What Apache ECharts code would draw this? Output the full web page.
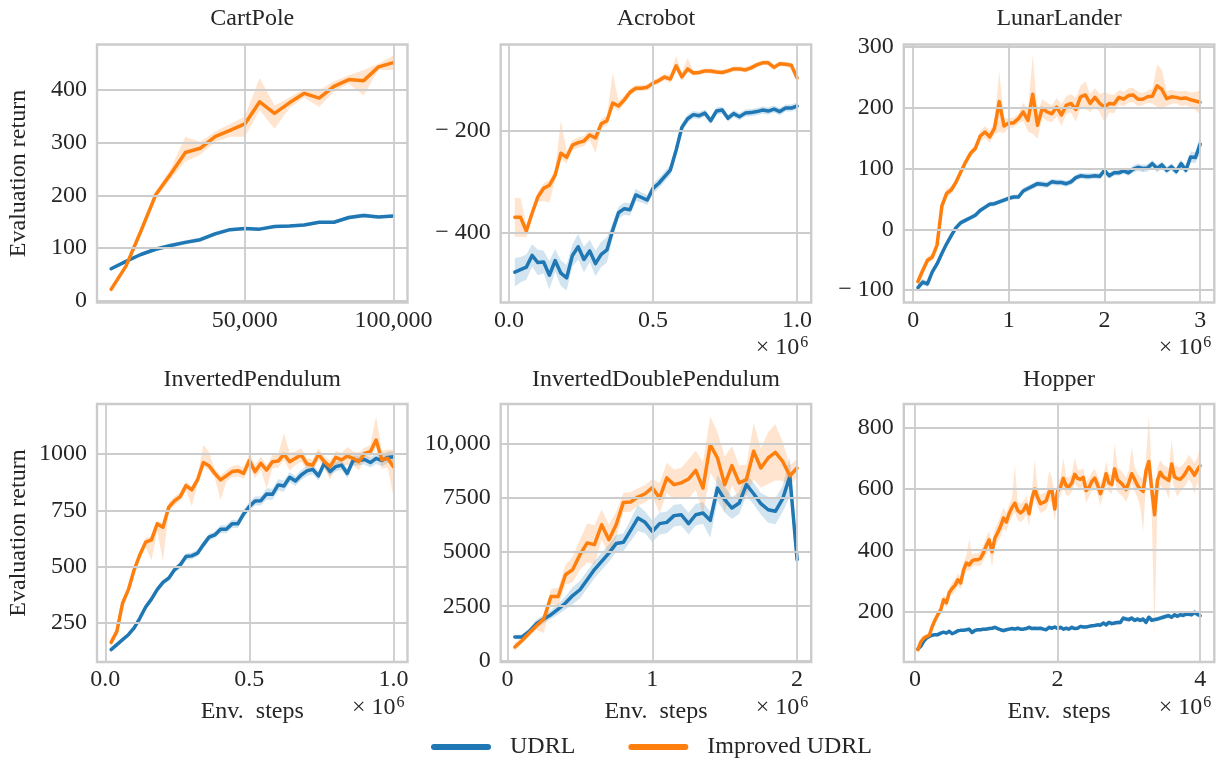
<!DOCTYPE html>
<html>
<head>
<meta charset="utf-8">
<title>UDRL vs Improved UDRL</title>
<script src="https://cdn.jsdelivr.net/npm/echarts@6/dist/echarts.min.js"></script>
<style>
  html, body { margin: 0; padding: 0; background: #ffffff; }
  #chart { width: 1228px; height: 760px; }
</style>
</head>
<body>
<div id="chart"></div>
<script>
// ---- Evaluation returns (mean curves and band half-widths; a pair is [below, above]) ----

// CartPole: evaluated every 5,000 env. steps
const cartpoleEvalEvery = 5000;
const cartpoleUdrl = [61, 75, 88, 98, 105, 111, 116, 127, 135, 137, 136, 141, 142, 144, 149, 149, 158, 162, 159, 161];
const cartpoleUdrlSpread = [3, 3, 3, 4, 4, 4, 4, 4, 3, 3, 3, 3, 3, 3, 3, 3, 4, 4, 3, 3];
const cartpoleImproved = [22, 66, 132, 201, 240, 281, 289, 311, 323, 335, 377, 355, 375, 393, 384, 406, 419, 417, 443, 451];
const cartpoleImprovedSpread = [3, 5, 6, 6, 10, [17, 30], 12, 10, 12, [24, 14], [16, 45], [29, 15], 10, 8, [17, 15], 10, 8, [28, 20], 6, 14];
const cartpoleXTicks = [50000, 100000];
const cartpoleXLabels = ['50,000', '100,000'];
const cartpoleYTicks = [0, 100, 200, 300, 400];
const cartpoleYLabels = ['0', '100', '200', '300', '400'];

// Acrobot: evaluated every 0.02 × 10^6 env. steps
const acrobotEvalEvery = 0.02;
const acrobotUdrl = [-478, -473, -468, -445, -459, -458, -484, -455, -480, -489,
  -445, -428, -453, -436, -461, -443, -434, -395, -361, -353,
  -355, -326, -331, -336, -313, -303, -290, -277, -238, -193,
  -176, -168, -170, -165, -180, -161, -159, -175, -166, -172,
  -165, -164, -162, -159, -161, -157, -162, -155, -155, -151];
const acrobotUdrlSpread = [28, 25, 25, 22, 25, 22, 28, 22, 25, 25,
  22, 25, 25, 22, 25, 25, 25, 15, 12, 12,
  12, 12, 10, 10, 10, 10, 10, 10, 8, 8,
  8, 7, 7, 7, 7, 7, 7, 7, 7, 7,
  7, 7, 7, 7, 7, 7, 7, 7, 7, 7];
const acrobotImproved = [-370, -370, -397, -362, -330, -313, -307, -287, -244, -252,
  -228, -223, -220, -208, -214, -186, -180, -145, -151, -139,
  -124, -116, -116, -114, -106, -101, -94, -98, -72, -94,
  -78, -86, -85, -82, -82, -84, -85, -82, -78, -78,
  -80, -76, -70, -66, -66, -75, -68, -69, -71, -96];
const acrobotImprovedSpread = [38, 38, 12, 10, 10, [25, 10], [34, 10], 10, [10, 65], 12,
  10, 10, 10, 10, [30, 10], 10, 10, [8, 60], 10, 8,
  7, 6, 6, 6, 6, 6, 6, 8, [6, 20], 8,
  [6, 22], 5, 5, 5, 5, 5, 5, 5, 5, 5,
  5, 5, 5, 5, 5, 5, 5, 5, 5, 8];
const acrobotXTicks = [0, 0.5, 1.0];
const acrobotXLabels = ['0.0', '0.5', '1.0'];
const acrobotYTicks = [-400, -200];
const acrobotYLabels = ['\u2212 400', '\u2212 200'];

// LunarLander: evaluated every 0.05 × 10^6 env. steps
const lunarEvalEvery = 0.05;
const lunarUdrl = [-96, -87, -90, -70, -57, -40, -24, -10, 3, 11,
  15, 19, 23, 31, 36, 41, 42, 45, 48, 51,
  53, 53, 63, 67, 71, 75, 74, 73, 78, 77,
  77, 75, 78, 85, 88, 87, 87, 88, 87, 97,
  88, 93, 93, 96, 93, 99, 102, 100, 101, 108,
  100, 106, 97, 103, 95, 108, 97, 119, 118, 140];
const lunarUdrlSpread = [6, 5, 5, 5, 5, 5, 4, 4, 4, 4,
  4, 4, 4, 4, 4, 4, 4, 4, 4, 4,
  4, 4, 5, 5, 5, 5, 5, 5, 5, 5,
  5, 5, 5, 5, 5, 5, 5, 5, 5, 5,
  5, 5, 5, 5, 5, 6, 6, 6, 6, 6,
  6, 6, 6, 6, 6, 7, 7, 9, 9, 15];
const lunarImproved = [-86, -68, -51, -46, -26, 38, 59, 65, 78, 95,
  111, 125, 133, 153, 160, 152, 166, 210, 170, 175,
  175, 182, 193, 179, 222, 171, 199, 193, 190, 201,
  188, 204, 207, 197, 218, 221, 207, 217, 207, 201,
  207, 206, 217, 214, 220, 221, 214, 214, 218, 219,
  236, 230, 215, 218, 217, 215, 216, 213, 211, 209];
const lunarImprovedSpread = [10, 8, 6, 6, 8, 8, 8, 6, 6, 6,
  6, 6, 6, 8, 10, 10, 10, 50, 12, 8,
  8, 8, 15, 18, 65, 22, 15, 15, 14, 15,
  18, 15, 15, 20, 18, 22, 15, 15, 15, 25,
  15, 15, 12, 12, 12, 12, 12, 10, 10, 12,
  35, 32, 12, 12, 10, 12, 12, 12, 15, 20];
const lunarXTicks = [0, 1, 2, 3];
const lunarXLabels = ['0', '1', '2', '3'];
const lunarYTicks = [-100, 0, 100, 200, 300];
const lunarYLabels = ['\u2212 100', '0', '100', '200', '300'];

// InvertedPendulum: evaluated every 0.02 × 10^6 env. steps
const pendulumEvalEvery = 0.02;
const pendulumUdrl = [132, 154, 176, 198, 228, 272, 321, 356, 398, 430,
  449, 486, 508, 545, 548, 560, 597, 631, 641, 666,
  666, 690, 690, 734, 767, 792, 793, 823, 821, 863,
  858, 897, 880, 907, 925, 932, 903, 959, 922, 944,
  951, 914, 971, 971, 976, 962, 981, 971, 985, 988];
const pendulumUdrlSpread = [4, 6, 8, 10, 10, 10, 12, 12, 12, 12,
  12, 12, 15, 15, 15, 15, 15, 15, 15, 18,
  18, 18, 18, 18, 20, 20, 20, 25, 25, 25,
  25, 22, 22, 22, 22, 22, 22, 22, 22, 22,
  22, 22, 22, 22, 22, 22, 25, 25, 25, 25];
const pendulumImproved = [164, 213, 339, 398, 486, 553, 609, 619, 690, 675,
  764, 792, 811, 860, 841, 885, 962, 948, 914, 885,
  903, 922, 926, 914, 971, 922, 959, 929, 966, 969,
  999, 966, 981, 996, 956, 951, 999, 966, 944, 985,
  974, 991, 981, 966, 1003, 1010, 1062, 974, 981, 944];
const pendulumImprovedSpread = [15, 15, 15, 15, 15, 15, 20, [90, 15], [30, 15], [150, 15],
  20, 20, 20, 20, [73, 15], 20, [20, 78], [20, 60], 20, [89, 20],
  25, 25, 25, 25, 30, 30, 30, [81, 20], 30, 30,
  [25, 93], 40, 30, 30, 25, 25, 25, 25, [59, 25], 30,
  30, 40, 30, 40, 25, 30, [30, 106], 40, 40, [130, 74]];
const pendulumXTicks = [0, 0.5, 1.0];
const pendulumXLabels = ['0.0', '0.5', '1.0'];
const pendulumYTicks = [250, 500, 750, 1000];
const pendulumYLabels = ['250', '500', '750', '1000'];

// InvertedDoublePendulum: evaluated every 0.05 × 10^6 env. steps
const doubleEvalEvery = 0.05;
const doubleUdrl = [1080, 1080, 1340, 1690, 1910, 2110, 2370, 2650, 2990, 3260,
  3720, 4190, 4570, 4950, 5390, 5450, 6000, 6570, 6370, 5950,
  6310, 6370, 6680, 6720, 6310, 6720, 6800, 6460, 7950, 7420,
  7030, 7260, 8110, 7690, 7230, 6950, 6880, 7450, 8490, 4650];
const doubleUdrlSpread = [100, 100, 150, 200, 200, 200, 250, 300, 400, 400,
  400, 400, 400, 400, 400, 400, 500, 600, 500, 500,
  500, 500, 500, 500, 500, 500, 500, [800, 400], 600, 600,
  500, 500, 500, 500, 500, 600, 600, 600, 900, 200];
const doubleImproved = [620, 920, 1260, 1600, 1910, 2950, 2950, 3950, 4190, 4880,
  5420, 5340, 6260, 5570, 6260, 7290, 7310, 7540, 7690, 7970,
  7490, 8420, 8110, 8190, 8370, 8770, 7950, 9950, 9340, 8110,
  8990, 8190, 8340, 9650, 8880, 9340, 9600, 9190, 8520, 8880];
const doubleImprovedSpread = [200, 150, 150, 200, [650, 150], 350, 400, 450, 600, 700,
  900, 900, 700, 700, 600, 450, 450, 400, 400, 400,
  700, 700, 700, 700, 900, 900, 1200, 1300, 1200, 1300,
  900, 800, 700, 1300, 900, 1200, 1300, 900, 500, 400];
const doubleXTicks = [0, 1, 2];
const doubleXLabels = ['0', '1', '2'];
const doubleYTicks = [0, 2500, 5000, 7500, 10000];
const doubleYLabels = ['0', '2500', '5000', '7500', '10,000'];

// Hopper: evaluated every 0.04 × 10^6 env. steps
const hopperEvalEvery = 0.04;
const hopperUdrl = [77, 86, 102, 113, 118, 122, 124, 124, 129, 132,
  129, 135, 127, 131, 137, 138, 138, 140, 142, 131,
  138, 140, 140, 142, 142, 144, 145, 148, 144, 140,
  137, 140, 142, 144, 142, 145, 142, 142, 144, 148,
  144, 145, 144, 145, 142, 140, 148, 145, 149, 144,
  148, 142, 145, 142, 148, 144, 145, 151, 149, 149,
  151, 153, 154, 156, 155, 162, 156, 164, 160, 162,
  164, 164, 178, 175, 173, 178, 171, 175, 171, 175,
  164, 181, 171, 173, 175, 178, 181, 184, 186, 181,
  189, 184, 189, 187, 191, 191, 189, 197, 191, 186];
const hopperUdrlSpread = [4, 4, 5, 5, 5, 5, 5, 5, 5, 5,
  5, 5, 5, 5, 5, 5, 5, 5, 6, 6,
  6, 6, 6, 6, 6, 6, 6, 6, 6, 6,
  6, 6, 6, 6, 6, 6, 6, 6, 6, 6,
  6, 6, 6, 6, 6, 6, 6, 6, 6, 6,
  6, 6, 6, 6, 6, 6, 6, 6, 6, 6,
  6, 6, 6, 6, 6, 7, 7, 7, 7, 7,
  7, 7, 8, 8, 8, 8, 8, 8, 8, 8,
  8, 8, 8, 8, 8, 8, 8, 8, 8, 8,
  8, 8, 8, 8, 8, 8, 8, 9, 9, 9];
const hopperImproved = [75, 100, 112, 118, 122, 150, 172, 190, 205, 238,
  228, 262, 275, 285, 303, 293, 335, 358, 352, 365,
  369, 369, 374, 392, 415, 434, 395, 440, 458, 478,
  505, 492, 520, 540, 554, 530, 522, 530, 548, 519,
  570, 600, 572, 552, 556, 562, 590, 598, 535, 595,
  606, 635, 610, 608, 620, 648, 635, 632, 638, 595,
  605, 625, 636, 614, 585, 612, 650, 620, 615, 666,
  630, 622, 612, 598, 622, 650, 632, 612, 600, 592,
  660, 690, 600, 516, 628, 655, 640, 634, 628, 682,
  640, 634, 632, 641, 655, 672, 660, 645, 662, 676];
const hopperImprovedSpread = [8, 8, 8, 8, 10, 10, 10, 12, 12, 15,
  15, 15, 20, 20, 20, 20, 25, 25, [20, 85], 20,
  20, 20, 25, 25, 30, 30, [50, 20], 30, 30, 35,
  35, 30, 30, 30, [30, 125], 30, 30, 30, 30, [40, 30],
  30, [30, 95], 30, 30, 30, 30, [30, 70], 40, 40, 30,
  30, [30, 66], 30, 30, 30, [30, 55], 30, 30, 30, [40, 30],
  30, 30, 30, 30, [40, 30], 30, 40, 30, 30, [30, 84],
  40, 40, 40, 40, 40, [30, 89], 40, 40, [60, 40], [130, 40],
  40, [40, 150], [80, 60], [390, 60], [80, 40], 40, 40, 40, [60, 40], [40, 78],
  40, [60, 40], 40, 40, 40, 40, 40, [60, 40], 40, [89, 63]];
const hopperXTicks = [0, 2, 4];
const hopperXLabels = ['0', '2', '4'];
const hopperYTicks = [200, 400, 600, 800];
const hopperYLabels = ['200', '400', '600', '800'];

const seriesNames = ['UDRL', 'Improved UDRL'];

// ---- Panel definitions ----
const panels = [
  { title: 'CartPole', every: cartpoleEvalEvery, udrl: cartpoleUdrl, udrlSpread: cartpoleUdrlSpread,
    imp: cartpoleImproved, impSpread: cartpoleImprovedSpread,
    xTicks: cartpoleXTicks, xLabels: cartpoleXLabels, yTicks: cartpoleYTicks, yLabels: cartpoleYLabels,
    xRange: [250, 104750], yRange: [-2.8, 485.4], sci: false },
  { title: 'Acrobot', every: acrobotEvalEvery, udrl: acrobotUdrl, udrlSpread: acrobotUdrlSpread,
    imp: acrobotImproved, impSpread: acrobotImprovedSpread,
    xTicks: acrobotXTicks, xLabels: acrobotXLabels, yTicks: acrobotYTicks, yLabels: acrobotYLabels,
    xRange: [-0.029, 1.049], yRange: [-537.6, -30], sci: true },
  { title: 'LunarLander', every: lunarEvalEvery, udrl: lunarUdrl, udrlSpread: lunarUdrlSpread,
    imp: lunarImproved, impSpread: lunarImprovedSpread,
    xTicks: lunarXTicks, xLabels: lunarXLabels, yTicks: lunarYTicks, yLabels: lunarYLabels,
    xRange: [-0.0975, 3.1475], yRange: [-120.5, 304], sci: true },
  { title: 'InvertedPendulum', every: pendulumEvalEvery, udrl: pendulumUdrl, udrlSpread: pendulumUdrlSpread,
    imp: pendulumImproved, impSpread: pendulumImprovedSpread,
    xTicks: pendulumXTicks, xLabels: pendulumXLabels, yTicks: pendulumYTicks, yLabels: pendulumYLabels,
    xRange: [-0.029, 1.049], yRange: [77, 1222], sci: true },
  { title: 'InvertedDoublePendulum', every: doubleEvalEvery, udrl: doubleUdrl, udrlSpread: doubleUdrlSpread,
    imp: doubleImproved, impSpread: doubleImprovedSpread,
    xTicks: doubleXTicks, xLabels: doubleXLabels, yTicks: doubleYTicks, yLabels: doubleYLabels,
    xRange: [-0.0475, 2.0975], yRange: [-74, 11831], sci: true },
  { title: 'Hopper', every: hopperEvalEvery, udrl: hopperUdrl, udrlSpread: hopperUdrlSpread,
    imp: hopperImproved, impSpread: hopperImprovedSpread,
    xTicks: hopperXTicks, xLabels: hopperXLabels, yTicks: hopperYTicks, yLabels: hopperYLabels,
    xRange: [-0.158, 4.198], yRange: [34.6, 878], sci: true }
];

// ---- Styling / layout ----
const FONT = '"Liberation Serif", "DejaVu Serif", serif';
const TEXT = '#262626';
const RULE = '#cccccc';
const BLUE = '#1f77b4';
const ORANGE = '#ff7f0e';
const COL_LEFT = [97, 500.7, 903.8];
const ROW_TOP = [44.5, 404];
const PANEL_W = 310.5;
const PANEL_H = 258;

function tickFormatter(ticks, labels) {
  return function (v) {
    const i = ticks.findIndex(t => Math.abs(t - v) <= 1e-9 * Math.max(1, Math.abs(t)));
    return i >= 0 ? labels[i] : '';
  };
}

// Shaded spread around a mean curve, drawn as one polygon in data coordinates.
function bandSeries(gi, every, mean, spread, color) {
  const rows = mean.map((m, k) => {
    const s = spread[k];
    const dn = Array.isArray(s) ? s[0] : s;
    const up = Array.isArray(s) ? s[1] : s;
    return [(k + 1) * every, m - dn, m + up];
  });
  return {
    type: 'custom', xAxisIndex: gi, yAxisIndex: gi, silent: true, z: 2, clip: true,
    data: rows,
    encode: { x: 0, y: [1, 2] },
    renderItem: function (params, api) {
      if (params.dataIndex !== 0) return null;
      const top = rows.map(r => api.coord([r[0], r[2]]));
      const bottom = rows.slice().reverse().map(r => api.coord([r[0], r[1]]));
      return {
        type: 'polygon',
        shape: { points: top.concat(bottom) },
        style: { fill: color, opacity: 0.2 }
      };
    }
  };
}

function meanSeries(gi, every, mean, color, name, z) {
  return {
    type: 'line', name: name, xAxisIndex: gi, yAxisIndex: gi,
    data: mean.map((v, k) => [(k + 1) * every, v]),
    symbol: 'none', showSymbol: false, silent: true, z: z,
    itemStyle: { color: color },
    lineStyle: { color: color, width: 3.5, cap: 'round', join: 'round' },
    emphasis: { disabled: true }
  };
}

const grids = [], xAxes = [], yAxes = [], series = [], graphics = [];
const labelText = { fontFamily: FONT, fontSize: 24, color: TEXT };

panels.forEach((p, i) => {
  const col = i % 3, row = Math.floor(i / 3);
  const left = COL_LEFT[col], top = ROW_TOP[row];

  grids.push({
    left: left, top: top, width: PANEL_W, height: PANEL_H,
    show: true, borderColor: RULE, borderWidth: 2.4, backgroundColor: '#ffffff',
    containLabel: false, outerBoundsMode: 'none'
  });

  xAxes.push({
    type: 'value', gridIndex: i, min: p.xRange[0], max: p.xRange[1],
    axisLine: { show: false, onZero: false }, axisTick: { show: false }, splitLine: { show: false },
    axisLabel: Object.assign({ customValues: p.xTicks, formatter: tickFormatter(p.xTicks, p.xLabels), margin: 6 }, labelText),
    name: row === 1 ? 'Env.  steps' : '', nameLocation: 'middle', nameGap: 38,
    nameTextStyle: labelText
  });

  yAxes.push({
    type: 'value', gridIndex: i, min: p.yRange[0], max: p.yRange[1],
    axisLine: { show: false, onZero: false }, axisTick: { show: false }, splitLine: { show: false },
    axisLabel: Object.assign({ customValues: p.yTicks, formatter: tickFormatter(p.yTicks, p.yLabels), margin: 10 }, labelText),
    name: col === 0 ? 'Evaluation return' : '', nameLocation: 'middle', nameRotate: 90, nameGap: 66,
    nameTextStyle: labelText
  });

  // grid rules at the tick positions
  series.push({
    type: 'line', xAxisIndex: i, yAxisIndex: i, data: [], z: 1, silent: true,
    markLine: {
      silent: true, symbol: 'none', animation: false, label: { show: false },
      emphasis: { disabled: true },
      lineStyle: { color: RULE, width: 1.8, type: 'solid' },
      data: p.xTicks.map(v => ({ xAxis: v })).concat(p.yTicks.map(v => ({ yAxis: v })))
    }
  });

  series.push(bandSeries(i, p.every, p.udrl, p.udrlSpread, BLUE));
  series.push(bandSeries(i, p.every, p.imp, p.impSpread, ORANGE));
  series.push(meanSeries(i, p.every, p.udrl, BLUE, seriesNames[0], 3));
  series.push(meanSeries(i, p.every, p.imp, ORANGE, seriesNames[1], 4));

  graphics.push({
    type: 'text', x: left + PANEL_W / 2, y: row === 0 ? 19 : 379.5, silent: true,
    style: { text: p.title, font: '24px ' + FONT, fill: TEXT, align: 'center', verticalAlign: 'middle' }
  });

  if (p.sci) {
    const right = left + PANEL_W, bottom = top + PANEL_H;
    graphics.push({
      type: 'text', x: right - 12, y: bottom + 45.5, silent: true,
      style: { text: '\u00d7 10', font: '24px ' + FONT, fill: TEXT, align: 'right', verticalAlign: 'middle' }
    });
    graphics.push({
      type: 'text', x: right - 11, y: bottom + 40.5, silent: true,
      style: { text: '6', font: '16px ' + FONT, fill: TEXT, align: 'left', verticalAlign: 'middle' }
    });
  }
});

const chart = echarts.init(document.getElementById('chart'), null, { renderer: 'canvas' });
chart.setOption({
  animation: false,
  backgroundColor: '#ffffff',
  grid: grids,
  xAxis: xAxes,
  yAxis: yAxes,
  series: series,
  graphic: graphics,
  legend: {
    data: seriesNames, left: 426, top: 730, selectedMode: false,
    icon: 'path://M3,0H57A3,3,0,0,1,57,6H3A3,3,0,0,1,3,0Z',
    itemWidth: 60, itemHeight: 6, itemGap: 53,
    textStyle: { fontFamily: FONT, fontSize: 24, color: TEXT, padding: [0, 0, 0, 14] }
  }
});
</script>
</body>
</html>
